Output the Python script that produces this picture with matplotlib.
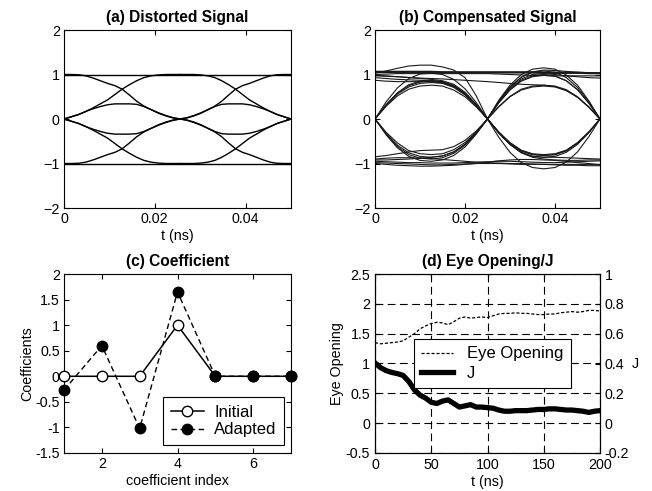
import numpy as np
import matplotlib
matplotlib.use("Agg")
import matplotlib.pyplot as plt

plt.rcParams['font.family'] = ['Liberation Sans', 'DejaVu Sans']
plt.rcParams['font.size'] = 10.3
plt.rcParams['axes.linewidth'] = 0.8

# ---------------- (a) Distorted signal: segments ----------------
a_t_slot1 = np.linspace(0.0, 0.0256, 17)
a_t_slot2 = np.linspace(0.0256, 0.05, 17)
a_fall = [1, 1, 0.995, 0.97, 0.92, 0.86, 0.80, 0.75, 0.67, 0.54, 0.40, 0.29, 0.21, 0.13, 0.07, 0.025, 0]
a_rise = [0, 0.05, 0.10, 0.17, 0.25, 0.34, 0.43, 0.55, 0.67, 0.77, 0.86, 0.93, 0.97, 0.99, 1, 1, 1]
a_bump = [0, 0.05, 0.10, 0.17, 0.23, 0.28, 0.32, 0.34, 0.34, 0.34, 0.33, 0.28, 0.21, 0.14, 0.08, 0.03, 0]
a_levels = [1, -1]

# ---------------- (b) Compensated signal traces ----------------
b_t = np.linspace(0.0, 0.05, 21)
b_traces = [
    [1.06, 1.06, 1.06, 1.06, 1.06, 1.06, 1.05, 1.05, 1.05, 1.05, 1.05, 1.05, 1.05, 1.05, 1.05, 1.04, 1.04, 1.04, 1.04, 1.03, 1.03],
    [1.04, 1.045, 1.05, 1.05, 1.05, 1.05, 1.05, 1.05, 1.04, 1.04, 1.04, 1.04, 1.04, 1.04, 1.04, 1.04, 1.03, 1.03, 1.03, 1.03, 1.02],
    [1.03, 1.08, 1.14, 1.19, 1.21, 1.21, 1.17, 1.10, 0.93, 0.52, 0, -0.31, -0.57, -0.75, -0.84, -0.86, -0.84, -0.75, -0.57, -0.31, 0],
    [0.985, 0.97, 0.95, 0.93, 0.91, 0.89, 0.86, 0.78, 0.60, 0.33, 0, 0.40, 0.72, 0.94, 1.06, 1.10, 1.09, 1.07, 1.05, 1.04, 1.03],
    [0.93, 0.91, 0.89, 0.88, 0.87, 0.86, 0.83, 0.75, 0.58, 0.32, 0, -0.30, -0.55, -0.72, -0.80, -0.82, -0.80, -0.72, -0.55, -0.30, 0],
    [0.87, 0.85, 0.84, 0.84, 0.84, 0.84, 0.81, 0.73, 0.56, 0.31, 0, 0.38, 0.69, 0.90, 1.00, 1.02, 1.00, 0.97, 0.95, 0.93, 0.92],
    [0.97, 0.96, 0.95, 0.935, 0.92, 0.91, 0.90, 0.885, 0.87, 0.855, 0.84, 0.82, 0.80, 0.78, 0.77, 0.76, 0.73, 0.64, 0.49, 0.27, 0],
    [0, 0.39, 0.70, 0.91, 1.01, 1.03, 1.00, 0.89, 0.68, 0.37, 0, -0.29, -0.53, -0.70, -0.78, -0.80, -0.78, -0.70, -0.53, -0.29, 0],
    [0, 0.33, 0.59, 0.77, 0.85, 0.87, 0.84, 0.75, 0.57, 0.31, 0, 0.42, 0.76, 1.00, 1.12, 1.15, 1.12, 0.99, 0.76, 0.41, 0],
    [0, 0.31, 0.56, 0.72, 0.80, 0.82, 0.80, 0.71, 0.54, 0.30, 0, 0.28, 0.51, 0.67, 0.74, 0.76, 0.74, 0.66, 0.50, 0.27, 0],
    [0, 0.29, 0.52, 0.67, 0.74, 0.76, 0.74, 0.65, 0.50, 0.27, 0, -0.41, -0.75, -0.98, -1.09, -1.12, -1.09, -0.97, -0.74, -0.40, 0],
    [0, 0.32, 0.58, 0.75, 0.83, 0.85, 0.82, 0.73, 0.56, 0.31, 0, 0.40, 0.72, 0.94, 1.05, 1.08, 1.05, 0.93, 0.71, 0.39, 0],
    [0, -0.36, -0.65, -0.84, -0.93, -0.95, -0.92, -0.82, -0.63, -0.34, 0, 0.36, 0.65, 0.85, 0.95, 0.98, 0.96, 0.86, 0.66, 0.36, 0],
    [0, -0.33, -0.59, -0.76, -0.84, -0.86, -0.83, -0.74, -0.57, -0.31, 0, -0.30, -0.54, -0.71, -0.80, -0.82, -0.80, -0.71, -0.54, -0.30, 0],
    [0, -0.30, -0.54, -0.71, -0.78, -0.80, -0.78, -0.69, -0.53, -0.29, 0, 0.27, 0.50, 0.65, 0.72, 0.74, 0.72, 0.64, 0.49, 0.27, 0],
    [0, -0.34, -0.62, -0.80, -0.88, -0.90, -0.87, -0.77, -0.59, -0.32, 0, -0.32, -0.57, -0.75, -0.84, -0.86, -0.86, -0.87, -0.88, -0.89, -0.90],
    [-0.85, -0.82, -0.78, -0.74, -0.71, -0.70, -0.69, -0.62, -0.48, -0.27, 0, 0.37, 0.67, 0.87, 0.97, 1.00, 0.97, 0.86, 0.66, 0.36, 0],
    [-0.92, -0.92, -0.91, -0.90, -0.88, -0.86, -0.83, -0.74, -0.57, -0.31, 0, -0.31, -0.57, -0.76, -0.86, -0.90, -0.92, -0.93, -0.93, -0.92, -0.92],
    [-0.95, -0.96, -0.97, -0.98, -0.98, -0.99, -0.99, -0.99, -0.98, -0.97, -0.96, -0.95, -0.95, -0.96, -0.97, -0.98, -0.98, -0.97, -0.96, -0.95, -0.94],
    [-0.98, -0.99, -1.0, -1.01, -1.02, -1.03, -1.03, -1.02, -1.01, -1.0, -1.0, -1.0, -1.01, -1.02, -1.02, -1.02, -1.02, -1.02, -1.02, -1.02, -1.02],
    [-1.0, -1.02, -1.04, -1.05, -1.06, -1.06, -1.05, -1.04, -1.02, -1.0, -0.97, -0.94, -0.92, -0.91, -0.91, -0.92, -0.93, -0.95, -0.98, -1.0, -1.03],
    [-0.90, -0.88, -0.87, -0.87, -0.88, -0.89, -0.91, -0.93, -0.95, -0.97, -0.98, -0.99, -1.0, -1.0, -1.01, -1.02, -1.03, -1.04, -1.04, -1.05, -1.05],
    [1.0, 1.01, 1.02, 1.02, 1.02, 1.02, 1.02, 1.02, 1.02, 1.02, 1.02, 1.01, 1.00, 0.99, 0.98, 0.98, 0.97, 0.97, 0.97, 0.97, 0.97],
]

# ---------------- (c) Coefficients ----------------
c_index = [1, 2, 3, 4, 5, 6, 7]
c_initial = [0, 0, 0, 1, 0, 0, 0]
c_adapted = [-0.27, 0.60, -1.02, 1.65, 0.0, 0.0, 0.0]

# ---------------- (d) Eye opening / J ----------------
d_t = np.arange(0, 201, 5)
d_eye = [1.35, 1.33, 1.34, 1.35, 1.36, 1.38, 1.44, 1.50, 1.58, 1.63, 1.67, 1.69, 1.68, 1.65,
         1.70, 1.76, 1.78, 1.76, 1.77, 1.78, 1.77, 1.80, 1.83, 1.84, 1.84, 1.85, 1.84, 1.84,
         1.83, 1.82, 1.82, 1.83, 1.83, 1.85, 1.86, 1.87, 1.86, 1.87, 1.89, 1.89, 1.88]
d_J = [0.404, 0.372, 0.352, 0.34, 0.332, 0.32, 0.28, 0.224, 0.188, 0.168, 0.14, 0.132, 0.148,
       0.156, 0.132, 0.108, 0.116, 0.124, 0.108, 0.108, 0.104, 0.10, 0.088, 0.08, 0.08, 0.084,
       0.084, 0.084, 0.088, 0.092, 0.092, 0.096, 0.096, 0.092, 0.088, 0.088, 0.084, 0.08,
       0.072, 0.08, 0.084]

fig = plt.figure(figsize=(6.52, 4.91), dpi=100)
W, H = 652, 491
TICK = 10.3
LEG = 12


def add_ax(x0, y0, x1, y1):
    return fig.add_axes([x0 / W, 1 - y1 / H, (x1 - x0) / W, (y1 - y0) / H])


def style(ax, right=True):
    ax.tick_params(direction='in', top=True, right=right, length=3.5, width=0.8,
                   labelsize=TICK, pad=3)


title_kw = dict(fontsize=11.2, fontweight='bold', pad=5.5)

# (a)
ax = add_ax(64, 30, 291, 208)
for lv in a_levels:
    ax.plot([0, 0.05], [lv, lv], color='k', lw=1.0)
for sgn in (1, -1):
    for seg in (a_fall, a_rise, a_bump):
        ax.plot(a_t_slot1, [sgn * v for v in seg], color='k', lw=1.0)
        ax.plot(a_t_slot2, [sgn * v for v in seg[::-1]], color='k', lw=1.0)
ax.set_xlim(0, 0.05)
ax.set_ylim(-2, 2)
ax.set_xticks([0, 0.02, 0.04])
ax.set_xticklabels(['0', '0.02', '0.04'])
ax.set_yticks([-2, -1, 0, 1, 2])
ax.set_xlabel('t (ns)', labelpad=2)
ax.set_title('(a) Distorted Signal', **title_kw)
style(ax)

# (b)
ax = add_ax(375, 30, 600, 208)
for i, tr in enumerate(b_traces):
    ax.plot(b_t, tr, color='#1a1a1a', lw=1.6 if i == 0 else 0.8)
ax.set_xlim(0, 0.05)
ax.set_ylim(-2, 2)
ax.set_xticks([0, 0.02, 0.04])
ax.set_xticklabels(['0', '0.02', '0.04'])
ax.set_yticks([-2, -1, 0, 1, 2])
ax.set_xlabel('t (ns)', labelpad=2)
ax.set_title('(b) Compensated Signal', **title_kw)
style(ax)

# (c)
ax = add_ax(64, 274, 291, 453)
ax.plot(c_index, c_initial, '-o', color='k', lw=1.1, ms=7.5, mfc='white', mec='k',
        mew=1.0, clip_on=False, zorder=3, label='Initial')
ax.plot(c_index, c_adapted, '--o', color='k', lw=1.0, ms=7.5, mfc='k', mec='k',
        clip_on=False, zorder=3, label='Adapted', dashes=(4, 2.5))
ax.set_xlim(1, 7)
ax.set_ylim(-1.5, 2)
ax.set_xticks([2, 4, 6])
ax.set_yticks([-1.5, -1, -0.5, 0, 0.5, 1, 1.5, 2])
ax.set_yticklabels(['-1.5', '-1', '-0.5', '0', '0.5', '1', '1.5', '2'])
ax.set_xlabel('coefficient index', labelpad=2)
ax.set_ylabel('Coefficients', labelpad=1)
ax.set_title('(c) Coefficient', **title_kw)
style(ax)
leg = ax.legend(loc='lower right', bbox_to_anchor=(0.969, 0.045), fontsize=LEG,
                frameon=True, fancybox=False, edgecolor='k', framealpha=1,
                handlelength=2.0, handletextpad=0.6, borderpad=0.45, labelspacing=0.15,
                borderaxespad=0)
leg.get_frame().set_linewidth(0.8)

# (d)
ax = add_ax(375, 274, 600, 453)
axr = ax.twinx()
l1, = ax.plot(d_t, d_eye, color='k', lw=0.9, dashes=(2.5, 1.5), label='Eye Opening')
l2, = axr.plot(d_t, d_J, color='k', lw=3.8, solid_joinstyle='round', label='J')
ax.set_xlim(0, 200)
ax.set_ylim(-0.5, 2.5)
axr.set_ylim(-0.2, 1.0)
ax.set_xticks([0, 50, 100, 150, 200])
ax.set_yticks([-0.5, 0, 0.5, 1, 1.5, 2, 2.5])
ax.set_yticklabels(['-0.5', '0', '0.5', '1', '1.5', '2', '2.5'])
axr.set_yticks([-0.2, 0, 0.2, 0.4, 0.6, 0.8, 1])
axr.set_yticklabels(['-0.2', '0', '0.2', '0.4', '0.6', '0.8', '1'])
ax.grid(True, color='k', lw=0.8, linestyle=(0, (7, 4)))
ax.set_xlabel('t (ns)', labelpad=2)
ax.set_ylabel('Eye Opening', labelpad=1)
axr.set_ylabel('J', rotation=0, va='center', labelpad=4)
ax.set_title('(d) Eye Opening/J', **title_kw)
ax.tick_params(direction='in', top=True, right=False, length=3.5, width=0.8, labelsize=TICK)
axr.tick_params(direction='in', length=3.5, width=0.8, labelsize=TICK)
leg = axr.legend([l1, l2], ['Eye Opening', 'J'], loc='upper left',
                 bbox_to_anchor=(0.173, 0.637), fontsize=LEG, frameon=True,
                 fancybox=False, edgecolor='k', framealpha=1, handlelength=1.9,
                 handletextpad=0.85, borderpad=0.45, labelspacing=0.25, borderaxespad=0)
leg.get_frame().set_linewidth(0.8)

fig.savefig('out.png', dpi=100)
